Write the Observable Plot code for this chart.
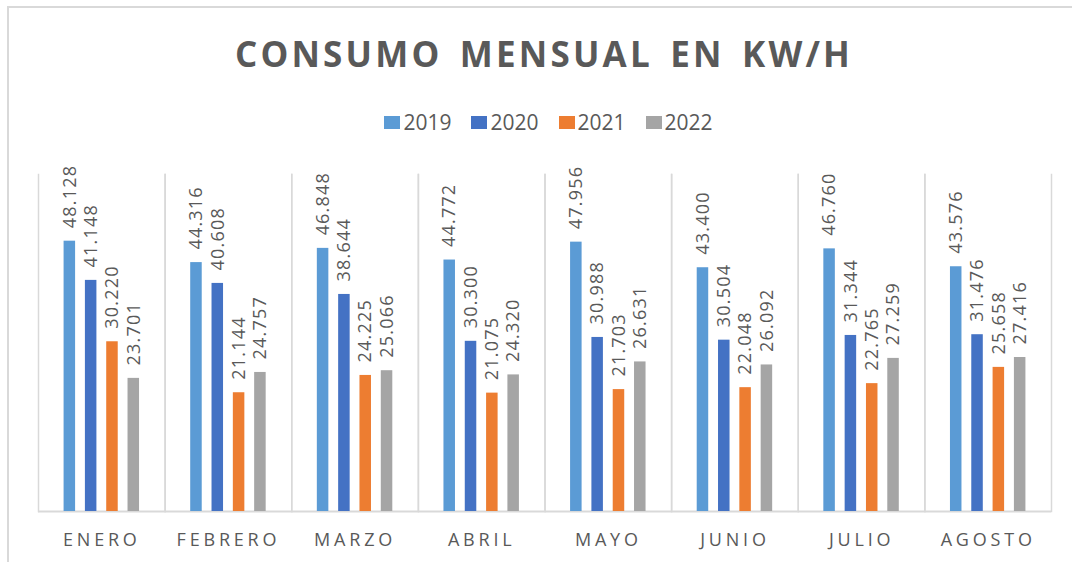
<!DOCTYPE html>
<html><head><meta charset="utf-8">
<script src="https://cdn.jsdelivr.net/npm/d3@7"></script>
<script src="https://cdn.jsdelivr.net/npm/@observablehq/plot@0.6"></script>
<style>
html,body{margin:0;padding:0;background:#fff;}
#wrap{position:relative;width:1072px;height:562px;overflow:hidden;background:#fff;font-family:"Open Sans",sans-serif;}
#border{position:absolute;left:7px;top:6px;width:1100px;height:600px;border-left:2px solid #d9d9d9;border-top:2px solid #d9d9d9;}
#title{position:absolute;left:0;width:1088px;top:30px;text-align:center;font-size:35px;font-weight:700;color:#595959;letter-spacing:3.2px;word-spacing:5px;line-height:48px;white-space:pre;}
#legend{position:absolute;left:0;width:1097px;top:109px;display:flex;justify-content:center;gap:20px;font-size:21px;color:#595959;line-height:26px;}
.item{display:flex;align-items:center;gap:3px;}
.sw{width:16px;height:13px;display:inline-block;}
#chart{position:absolute;left:0;top:150px;}
#chart g[aria-label="text"] text{letter-spacing:1.2px;}
#chart g[aria-label="fx-axis tick label"] text{letter-spacing:3.8px;}
</style></head>
<body>
<div id="wrap">
  <div id="border"></div>
  <div id="title">CONSUMO MENSUAL EN KW/H</div>
  <div id="legend"></div>
  <div id="chart"></div>
</div>
<script>
const months = ["ENERO","FEBRERO","MARZO","ABRIL","MAYO","JUNIO","JULIO","AGOSTO"];
const years = ["2019","2020","2021","2022"];
const v2019 = [48128,44316,46848,44772,47956,43400,46760,43576];
const v2020 = [41148,40608,38644,30300,30988,30504,31344,31476];
const v2021 = [30220,21144,24225,21075,21703,22048,22765,25658];
const v2022 = [23701,24757,25066,24320,26631,26092,27259,27416];
const colors = ["#5B9BD5","#4472C4","#ED7D31","#A5A5A5"];

const series = [v2019, v2020, v2021, v2022];
const data = months.flatMap((m, i) => years.map((y, j) => ({month: m, year: y, value: series[j][i]})));

const locale = d3.formatLocale({decimal: ",", thousands: ".", grouping: [3], currency: ["", ""]});
const fmt = locale.format(",d");

const legend = document.getElementById("legend");
years.forEach((y, j) => {
  const it = document.createElement("div");
  it.className = "item";
  it.innerHTML = `<span class="sw" style="background:${colors[j]}"></span><span>${y}</span>`;
  legend.appendChild(it);
});

const chart = Plot.plot({
  width: 1072, height: 412,
  marginLeft: 38, marginRight: 21, marginTop: 24, marginBottom: 51,
  style: {fontFamily: "Open Sans, sans-serif", color: "#595959", background: "transparent"},
  fx: {domain: months, paddingInner: 0, paddingOuter: 0, round: false, label: null, axis: null},
  x: {domain: years, paddingInner: 0.46, paddingOuter: 1.2, round: false, axis: null},
  y: {domain: [0, 60000], axis: null},
  color: {domain: years, range: colors},
  marks: [
    Plot.frame({anchor: "left", stroke: "#d9d9d9", strokeWidth: 1.5}),
    Plot.frame({anchor: "right", stroke: "#d9d9d9", strokeWidth: 1.5}),
    Plot.ruleY([0], {stroke: "#d9d9d9", strokeWidth: 2}),
    Plot.barY(data, {fx: "month", x: "year", y: "value", fill: "year"}),
    Plot.text(data, {fx: "month", x: "year", y: "value", text: d => fmt(d.value), rotate: -90, textAnchor: "start", lineAnchor: "middle", dy: -13, fill: "#595959", fontSize: 18}),
    Plot.axisFx({anchor: "bottom", tickSize: 0, tickPadding: 22, fontSize: 18, label: null, color: "#595959"})
  ]
});
document.getElementById("chart").appendChild(chart);
</script>
</body></html>
